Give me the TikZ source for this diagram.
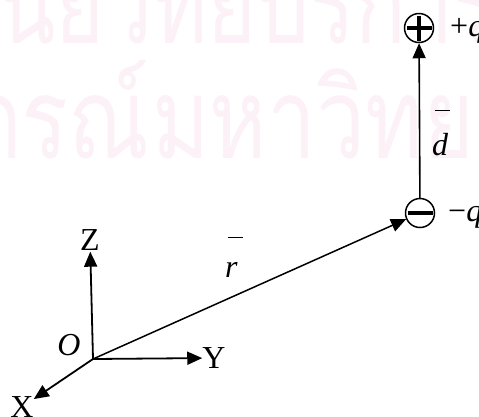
\documentclass[tikz,border=0pt]{standalone}
\usepackage{fontspec}
\setmainfont{Liberation Serif}
\newfontfamily\thaifont[Script=Thai]{Loma}
\usetikzlibrary{arrows.meta}
\definecolor{wmpink}{RGB}{252,241,246}
% letter with a bar above it
\newcommand{\ovbar}[2]{\setbox0\hbox{\itshape #2}\vbox{\hbox{\kern2.5pt\rule{15pt}{1.4pt}}\kern#1\box0}}

\begin{document}
\begin{tikzpicture}[
        x=1pt,y=-1pt,
        >={Triangle[length=15pt,width=13pt]},
        lbl/.style={inner sep=0pt,font=\fontsize{32}{34}\selectfont},
        charge/.style={circle,draw,line width=1.5pt,minimum size=29pt,inner sep=0pt},
        sign/.style={line width=3.4pt},
        axis/.style={->,line width=1.8pt},
        wm/.style={inner sep=0pt,text=wmpink,font=\thaifont\fontsize{112}{112}\selectfont}
    ]
        \useasboundingbox (0,0) rectangle (479,416);

        % watermark
        \node[wm,anchor=base east] (wma) at (105,43) {\scalebox{0.75}[1]{ศูนย์}};
        \node[wm,anchor=base west] (wmb) at (105,43) {\scalebox{0.75}[1]{วิทยบริการ}};
        \node[wm,anchor=base east] (wmc) at (150,158) {\scalebox{0.78}[1]{จุฬาลงกรณ์}};
        \node[wm,anchor=base west] (wmd) at (152,158) {\scalebox{0.78}[1]{มหาวิทยาลัย}};

        % axes
        \coordinate (o) at (93,359);
        \node[lbl,inner sep=1pt] (z) at (90,240) {Z};
        \node[lbl] (y) at (214,358) {Y};
        \node[lbl] (x) at (22,407) {X};
        \node[lbl] (olbl) at (69,345) {\itshape O};

        \draw[axis] (o) -- (z);
        \draw[axis] (o) -- (y);
        \draw[axis] (o) -- (x);

        % charges
        \node[charge] (neg) at (420,213) {};
        \node[charge] (pos) at (419,28) {};
        \draw[sign] ([xshift=-12.5pt]pos.center) -- ([xshift=12.5pt]pos.center);
        \draw[sign] ([yshift=-12.5pt]pos.center) -- ([yshift=12.5pt]pos.center);
        \draw[sign] ([xshift=-12.5pt]neg.center) -- ([xshift=12.5pt]neg.center);

        \draw[->,line width=1.5pt] (o) -- (neg);
        \draw[->,line width=1.6pt] (neg) -- (pos);

        \node[lbl,anchor=base west] (rlbl) at (225,277) {\ovbar{5pt}{r}};
        \node[lbl,anchor=base west] (dlbl) at (432,155) {\ovbar{10pt}{d}};
        \node[lbl,anchor=base west] (qpos) at (450,36) {+\textit{q}};
        \node[lbl,anchor=base west] (qneg) at (448,221) {−\textit{q}};
    \end{tikzpicture}
\end{document}
